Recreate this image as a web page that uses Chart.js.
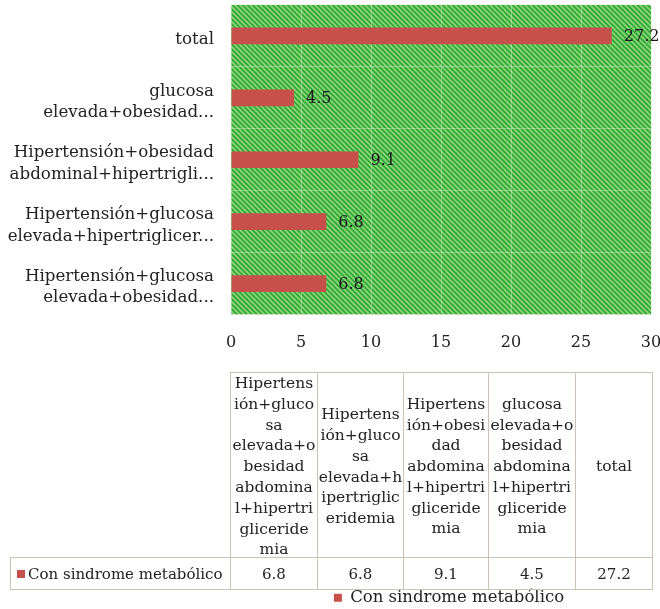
<!DOCTYPE html>
<html>
<head>
<meta charset="utf-8">
<script src="https://cdn.jsdelivr.net/npm/chart.js@4.4.1/dist/chart.umd.min.js"></script>
<style>
  html, body { margin: 0; padding: 0; background: #ffffff; overflow: hidden; }
  #wrap { position: relative; width: 660px; height: 609px; overflow: hidden; }
  #chart { position: absolute; left: 0; top: 0; }
  .cell { position: absolute; box-sizing: border-box; display: flex; align-items: center; justify-content: center;
          text-align: center; font-family: "DejaVu Serif", serif; color: #222; }
</style>
</head>
<body>
<div id="wrap">
  <canvas id="chart" width="660" height="616"></canvas>
  <div id="table"></div>
</div>
<script>
// ---- data ----
const categories = [
  "Hipertensión+glucosa elevada+obesidad abdominal+hipertrigliceridemia",
  "Hipertensión+glucosa elevada+hipertrigliceridemia",
  "Hipertensión+obesidad abdominal+hipertrigliceridemia",
  "glucosa elevada+obesidad abdominal+hipertrigliceridemia",
  "total"
];
const axisLabels = [
  ["Hipertensión+glucosa", "elevada+obesidad..."],
  ["Hipertensión+glucosa", "elevada+hipertriglicer..."],
  ["Hipertensión+obesidad", "abdominal+hipertrigli..."],
  ["glucosa", "elevada+obesidad..."],
  ["total"]
];
const tableHeaderLines = [
  ["Hipertens", "ión+gluco", "sa", "elevada+o", "besidad", "abdomina", "l+hipertri", "gliceride", "mia"],
  ["Hipertens", "ión+gluco", "sa", "elevada+h", "ipertriglic", "eridemia"],
  ["Hipertens", "ión+obesi", "dad", "abdomina", "l+hipertri", "gliceride", "mia"],
  ["glucosa", "elevada+o", "besidad", "abdomina", "l+hipertri", "gliceride", "mia"],
  ["total"]
];
const seriesName = "Con sindrome metabólico";
const seriesValues = [6.8, 6.8, 9.1, 4.5, 27.2];
const xMin = 0, xMax = 30, xStep = 5;

// ---- styles ----
const FONT = '"DejaVu Serif", serif';
const barColor = '#C8504B';

function makePattern() {
  const s = 5;
  const c = document.createElement('canvas');
  c.width = s; c.height = s;
  const g = c.getContext('2d');
  g.fillStyle = 'rgb(52,168,58)';
  g.fillRect(0, 0, s, s);
  g.strokeStyle = 'rgb(140,215,120)';
  g.lineWidth = 1.6;
  for (const o of [-s, 0, s]) {
    g.beginPath();
    g.moveTo(o - 1, -1);
    g.lineTo(o + s + 1, s + 1);
    g.stroke();
  }
  return g.createPattern(c, 'repeat');
}

const bgPlugin = {
  id: 'plotBg',
  afterLayout(chart) {
    // Excel centres the legend a little right of the plot centre
    if (chart.legend) { chart.legend.left += 8; chart.legend.right += 8; }
  },
  beforeDraw(chart) {
    const {ctx, chartArea: a} = chart;
    ctx.save();
    ctx.fillStyle = makePattern();
    ctx.fillRect(a.left, a.top, a.right - a.left, a.bottom - a.top);
    ctx.restore();
  }
};

const labelPlugin = {
  id: 'valueLabels',
  afterDatasetsDraw(chart) {
    const {ctx} = chart;
    const meta = chart.getDatasetMeta(0);
    ctx.save();
    ctx.font = '16px ' + FONT;
    ctx.fillStyle = '#1a1a1a';
    ctx.textAlign = 'left';
    ctx.textBaseline = 'middle';
    meta.data.forEach((el, i) => {
      ctx.fillText(String(chart.data.datasets[0].data[i]), el.x + 12, el.y + 1);
    });
    ctx.restore();
  }
};

new Chart(document.getElementById('chart'), {
  type: 'bar',
  data: {
    labels: axisLabels,
    datasets: [{
      label: seriesName,
      data: seriesValues,
      backgroundColor: barColor,
      borderWidth: 0,
      barPercentage: 0.27,
      categoryPercentage: 1
    }]
  },
  options: {
    indexAxis: 'y',
    responsive: false,
    animation: false,
    devicePixelRatio: 1,
    layout: { padding: { left: 0, right: 9, top: 5, bottom: 0 } },
    plugins: {
      legend: {
        display: true,
        position: 'bottom',
        fullSize: false,
        labels: {
          boxWidth: 8, boxHeight: 8, padding: 4,
          color: '#222',
          font: { family: FONT, size: 16.5 }
        }
      },
      tooltip: { enabled: false }
    },
    scales: {
      x: {
        min: xMin, max: xMax,
        ticks: { stepSize: xStep, padding: 19, color: '#222', font: { family: FONT, size: 16 } },
        grid: { color: 'rgba(215,238,205,0.45)', lineWidth: 1, drawTicks: false },
        border: { display: false },
        afterFit(scale) { scale.height = 271; scale.paddingLeft = 0; scale.paddingRight = 0; }
      },
      y: {
        reverse: true,
        ticks: { padding: 17, labelOffset: 4, color: '#222', font: { family: FONT, size: 16.7, lineHeight: 1.27 } },
        grid: { color: 'rgba(215,238,205,0.45)', lineWidth: 1, drawTicks: false, offset: true },
        border: { display: false },
        afterFit(scale) { scale.width = 231; scale.paddingTop = 0; scale.paddingBottom = 0; }
      }
    }
  },
  plugins: [bgPlugin, labelPlugin]
});

// ---- data table (built from the arrays) ----
(function buildTable() {
  const t = document.getElementById('table');
  const colX = [230, 317, 403, 488, 575, 653];
  const headTop = 372, headBottom = 557, rowBottom = 590, labelLeft = 10;
  const border = '1px solid #cbc2b8';
  tableHeaderLines.forEach((lines, i) => {
    const d = document.createElement('div');
    d.className = 'cell';
    Object.assign(d.style, {
      left: colX[i] + 'px', top: headTop + 'px',
      width: (colX[i + 1] - colX[i]) + 'px', height: (headBottom - headTop) + 'px',
      borderLeft: border, borderTop: border,
      borderRight: i === tableHeaderLines.length - 1 ? border : 'none',
      fontSize: '15.5px', lineHeight: '20.8px', flexDirection: 'column', paddingTop: '3px'
    });
    d.innerHTML = lines.map(l => '<div style="white-space:nowrap">' + l + '</div>').join('');
    t.appendChild(d);
  });
  const lab = document.createElement('div');
  lab.className = 'cell';
  Object.assign(lab.style, {
    left: labelLeft + 'px', top: headBottom + 'px',
    width: (colX[0] - labelLeft) + 'px', height: (rowBottom - headBottom) + 'px',
    border: border, borderRight: 'none', justifyContent: 'flex-start', paddingLeft: '6px',
    fontSize: '15px', whiteSpace: 'nowrap'
  });
  lab.innerHTML = '<span style="display:inline-block;width:8px;height:8px;background:' + barColor +
    ';margin-right:3px"></span>' + seriesName;
  t.appendChild(lab);
  seriesValues.forEach((v, i) => {
    const d = document.createElement('div');
    d.className = 'cell';
    Object.assign(d.style, {
      left: colX[i] + 'px', top: headBottom + 'px',
      width: (colX[i + 1] - colX[i]) + 'px', height: (rowBottom - headBottom) + 'px',
      borderLeft: border, borderTop: border, borderBottom: border,
      borderRight: i === seriesValues.length - 1 ? border : 'none',
      fontSize: '15px'
    });
    d.textContent = String(v);
    t.appendChild(d);
  });
})();
</script>
</body>
</html>
